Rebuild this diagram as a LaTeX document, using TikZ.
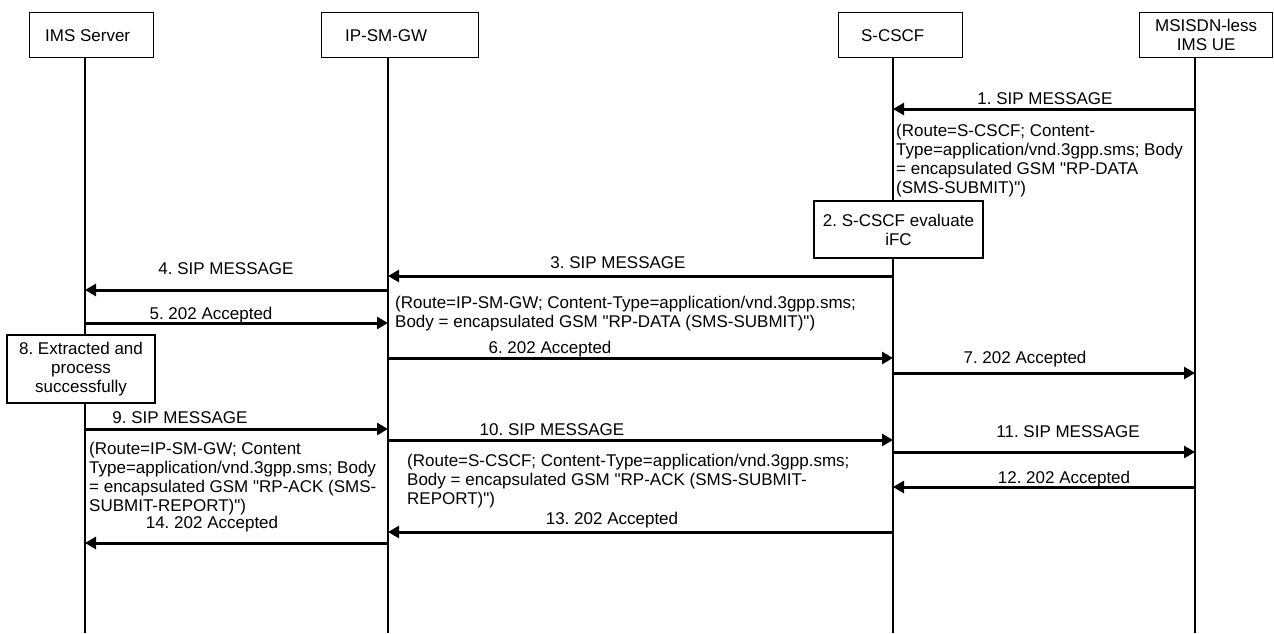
\documentclass[tikz,border=0pt]{standalone}
\usepackage{fontspec}
% plain family without TeX quote ligatures, so " stays straight
\setmonofont{Liberation Sans}
\usetikzlibrary{arrows.meta}
\begin{document}
\begin{tikzpicture}[x=1pt,y=-1pt,
  every node/.style={font=\ttfamily\fontsize{17}{19}\selectfont, inner sep=0pt},
  head/.style={draw, line width=1.3pt, minimum height=45pt, anchor=north west, align=center},
  lifeline/.style={line width=1.3pt},
  msg/.style={line width=3pt, -{Triangle[length=11pt,width=12pt]}},
  lbl/.style={anchor=base},
  note/.style={anchor=north west, align=left},
  act/.style={draw, line width=1.3pt, align=center, fill=white}]
\useasboundingbox (0,0) rectangle (1274,634);

% participants
\node[head, minimum width=124pt] (ims)  at (29,12)   {IMS Server\hspace*{8pt}};
\node[head, minimum width=157pt] (gw)   at (321,12)  {IP-SM-GW\hspace*{28pt}};
\node[head, minimum width=124pt] (cscf) at (838,12)  {S-CSCF\hspace*{16pt}};
\node[head, minimum width=133pt] (ue)   at (1139,12) {MSISDN-less\\IMS UE};

% lifeline tops and bottoms
\coordinate (l1) at (85,57);   \coordinate (b1) at (85,633);
\coordinate (l2) at (388,57);  \coordinate (b2) at (388,633);
\coordinate (l3) at (893,57);  \coordinate (b3) at (893,633);
\coordinate (l4) at (1195,57); \coordinate (b4) at (1195,633);
\foreach \i in {1,2,3,4} \draw[lifeline] (l\i) -- (b\i);

% 1
\draw[msg] (l4 |- 0,109) -- (l3 |- 0,109);
\node[lbl] (t1) at (1045,104) {1. SIP MESSAGE};
\node[note] (n1) at (896,124) {(Route=S-CSCF; Content-\\Type=application/vnd.3gpp.sms; Body\\= encapsulated GSM "RP-DATA\\(SMS-SUBMIT)")};

% 2
\node[act, minimum width=169pt, minimum height=57pt] (a2) at (898.5,229.5) {2. S-CSCF evaluate\\iFC};

% 3, 4
\draw[msg] (l3 |- 0,276) -- (l2 |- 0,276);
\node[lbl] (t3) at (618,268) {3. SIP MESSAGE};
\draw[msg] (l2 |- 0,290) -- (l1 |- 0,290);
\node[lbl] (t4) at (226,274) {4. SIP MESSAGE};
\node[note] (n3) at (395,296) {(Route=IP-SM-GW; Content-Type=application/vnd.3gpp.sms;\\Body = encapsulated GSM "RP-DATA (SMS-SUBMIT)")};

% 5
\draw[msg] (l1 |- 0,323) -- (l2 |- 0,323);
\node[lbl] (t5) at (211,319) {5. 202 Accepted};

% 8
\node[act, minimum width=148pt, minimum height=68pt] (a8) at (81,369) {8. Extracted and\\process\\successfully};

% 6, 7
\draw[msg] (l2 |- 0,358) -- (l3 |- 0,358);
\node[lbl] (t6) at (550,353) {6. 202 Accepted};
\draw[msg] (l3 |- 0,373) -- (l4 |- 0,373);
\node[lbl] (t7) at (1025,363) {7. 202 Accepted};

% 9, 10, 11
\draw[msg] (l1 |- 0,429) -- (l2 |- 0,429);
\node[lbl] (t9) at (180,423) {9. SIP MESSAGE};
\node[note] (n9) at (89,442) {(Route=IP-SM-GW; Content\\Type=application/vnd.3gpp.sms; Body\\= encapsulated GSM "RP-ACK (SMS-\\SUBMIT-REPORT)")};
\draw[msg] (l2 |- 0,440) -- (l3 |- 0,440);
\node[lbl] (t10) at (552,435) {10. SIP MESSAGE};
\node[note] (n10) at (407,454) {(Route=S-CSCF; Content-Type=application/vnd.3gpp.sms;\\Body = encapsulated GSM "RP-ACK (SMS-SUBMIT-\\REPORT)")};
\draw[msg] (l3 |- 0,452) -- (l4 |- 0,452);
\node[lbl] (t11) at (1068,437) {11. SIP MESSAGE};

% 12, 13, 14
\draw[msg] (l4 |- 0,487) -- (l3 |- 0,487);
\node[lbl] (t12) at (1064,483) {12. 202 Accepted};
\draw[msg] (l3 |- 0,532) -- (l2 |- 0,532);
\node[lbl] (t13) at (612,524) {13. 202 Accepted};
\draw[msg] (l2 |- 0,543) -- (l1 |- 0,543);
\node[lbl] (t14) at (212,528) {14. 202 Accepted};
\end{tikzpicture}
\end{document}
